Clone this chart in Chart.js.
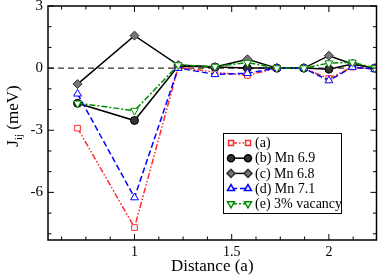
<!DOCTYPE html>
<html>
<head>
<meta charset="UTF-8">
<script src="https://cdn.jsdelivr.net/npm/chart.js"></script>
<style>
  html, body { margin: 0; padding: 0; background: #fff; }
  #wrap { width: 382px; height: 276px; }
</style>
</head>
<body>
<div id="wrap"><canvas id="c"></canvas></div>
<script>
// neighbour distances (units of a)
const distances = [0.707, 1, 1.225, 1.414, 1.581, 1.732, 1.871, 2, 2.121, 2.236];
const seriesA   = [-2.9, -7.7, 0.05, -0.2, -0.35, 0.0, -0.02, -0.5, 0.05, -0.05];
const seriesB   = [-1.7, -2.53, 0.1, 0.05, 0.0, 0.0, 0.0, -0.05, 0.2, 0.0];
const seriesC   = [-0.77, 1.57, 0.15, 0.05, 0.43, 0.0, 0.0, 0.6, 0.2, 0.0];
const seriesD   = [-1.24, -6.25, 0.0, -0.3, -0.25, 0.0, 0.0, -0.6, 0.05, -0.05];
const seriesE   = [-1.7, -2.05, 0.15, 0.08, 0.27, 0.0, 0.0, 0.24, 0.28, 0.0];
const labels    = ['(a)', '(b) Mn 6.9', '(c) Mn 6.8', '(d) Mn 7.1', '(e) 3% vacancy'];
const xMajor = [1, 1.5, 2];
const yMajor = [-6, -3, 0, 3];

const pts = arr => arr.map((v, i) => ({x: distances[i], y: v}));

const styles = [
  {color: '#ff2a2a', dash: [6, 2, 1.5, 2, 1.5, 2], point: 'rect', fill: '#fff', r: 4},
  {color: '#000', dash: [], point: 'circle', fill: '#333', r: 4},
  {color: '#000', dash: [], point: 'rectRot', fill: '#777', r: 4.5},
  {color: '#0000ff', dash: [6, 3], point: 'triangle', fill: '#fff', r: 4.5},
  {color: '#008c00', dash: [6, 2, 2, 2], point: 'triangle', rot: 180, fill: '#fff', r: 4.5}
];
const data = [seriesA, seriesB, seriesC, seriesD, seriesE];

const datasets = data.map((arr, i) => ({
  label: labels[i],
  data: pts(arr),
  borderColor: styles[i].color,
  borderWidth: 1.5,
  borderDash: styles[i].dash,
  pointStyle: styles[i].point,
  pointRotation: styles[i].rot || 0,
  pointRadius: styles[i].r,
  pointBorderWidth: 1,
  pointBorderColor: i == 2 ? '#333' : styles[i].color,
  pointBackgroundColor: styles[i].fill,
  showLine: true,
  tension: 0,
  order: 5 - i
}));

const serif = '"Liberation Serif", serif';

// zero line, axis ticks inward, titles, legend
const decor = {
  id: 'decor',
  beforeDatasetsDraw(chart) {
    const {ctx, chartArea: a, scales: {y}} = chart;
    ctx.save();
    ctx.strokeStyle = '#000';
    ctx.lineWidth = 1;
    ctx.setLineDash([6, 4]);
    const y0 = y.getPixelForValue(0);
    ctx.beginPath(); ctx.moveTo(a.left, y0); ctx.lineTo(a.right, y0); ctx.stroke();
    ctx.restore();
  },
  afterDraw(chart) {
    const {ctx, chartArea: a, scales: {x, y}} = chart;
    ctx.save();
    ctx.strokeStyle = '#000';
    ctx.lineWidth = 1.5;
    ctx.strokeRect(a.left, a.top, a.right - a.left, a.bottom - a.top);
    ctx.lineWidth = 1;
    ctx.beginPath();
    for (let v = 0.625; v <= 2.25; v += 0.125) {
      const px = x.getPixelForValue(v);
      if (px < a.left || px > a.right) continue;
      const len = Math.abs(v * 2 - Math.round(v * 2)) < 1e-6 ? 6 : 3.5;
      ctx.moveTo(px, a.bottom); ctx.lineTo(px, a.bottom - len);
      ctx.moveTo(px, a.top); ctx.lineTo(px, a.top + len);
    }
    for (let v = -8; v <= 3; v += 1) {
      const py = y.getPixelForValue(v);
      const len = v % 3 === 0 ? 6 : 3.5;
      ctx.moveTo(a.left, py); ctx.lineTo(a.left + len, py);
      ctx.moveTo(a.right, py); ctx.lineTo(a.right - len, py);
    }
    ctx.stroke();

    // axis titles
    ctx.fillStyle = '#000';
    ctx.font = '17px ' + serif;
    ctx.textAlign = 'center';
    ctx.textBaseline = 'alphabetic';
    ctx.fillText('Distance (a)', (a.left + a.right) / 2, 271);

    ctx.save();
    ctx.translate(18, 116);
    ctx.rotate(-Math.PI / 2);
    ctx.textAlign = 'left';
    const big = '17px ' + serif, small = '11px ' + serif;
    ctx.font = big; const wJ = ctx.measureText('J').width;
    ctx.font = small; const wij = ctx.measureText('ij').width;
    ctx.font = big; const wr = ctx.measureText(' (meV)').width;
    let sx = -(wJ + wij + wr) / 2;
    ctx.fillText('J', sx, 0); sx += wJ;
    ctx.font = small; ctx.fillText('ij', sx, 4); sx += wij;
    ctx.font = big; ctx.fillText(' (meV)', sx, 0);
    ctx.restore();

    // legend
    const lx = 223, ly = 133, lw = 118, lh = 80;
    ctx.fillStyle = '#fff';
    ctx.fillRect(lx, ly, lw, lh);
    ctx.strokeStyle = '#000';
    ctx.lineWidth = 1;
    ctx.strokeRect(lx + 0.5, ly + 0.5, lw, lh);
    chart.data.datasets.forEach((ds, i) => {
      const ry = ly + 10 + i * 15.2;
      ctx.save();
      ctx.strokeStyle = ds.borderColor;
      ctx.lineWidth = 1.5;
      ctx.setLineDash(ds.borderDash);
      ctx.beginPath(); ctx.moveTo(lx + 8, ry); ctx.lineTo(lx + 25, ry); ctx.stroke();
      ctx.setLineDash([]);
      const opts = {pointStyle: ds.pointStyle, radius: ds.pointRadius - 0.5, rotation: ds.pointRotation, borderWidth: 1};
      ctx.fillStyle = ds.pointBackgroundColor;
      ctx.strokeStyle = ds.pointBorderColor;
      Chart.helpers.drawPoint(ctx, opts, lx + 8, ry);
      Chart.helpers.drawPoint(ctx, opts, lx + 25, ry);
      ctx.restore();
      ctx.fillStyle = '#000';
      ctx.font = '14px ' + serif;
      ctx.textAlign = 'left';
      ctx.textBaseline = 'middle';
      ctx.fillText(ds.label, lx + 32, ry + 0.5);
    });
    ctx.restore();
  }
};

new Chart(document.getElementById('c'), {
  type: 'scatter',
  data: {datasets},
  options: {
    responsive: true,
    maintainAspectRatio: false,
    animation: false,
    layout: {padding: {top: 6, right: 3, left: 0, bottom: 0}},
    plugins: {legend: {display: false}, tooltip: {enabled: false}},
    scales: {
      x: {
        type: 'linear', min: 0.555, max: 2.245,
        grid: {display: false, drawTicks: false}, border: {display: false},
        afterBuildTicks: s => { s.ticks = xMajor.map(v => ({value: v})); },
        afterFit: s => { s.height = 36; s.paddingLeft = 0; s.paddingRight = 0; },
        ticks: {color: '#000', padding: 4, font: {family: serif, size: 14}, maxRotation: 0,
                callback: v => String(v)}
      },
      y: {
        type: 'linear', min: -8.3, max: 3,
        grid: {display: false, drawTicks: false}, border: {display: false},
        afterBuildTicks: s => { s.ticks = yMajor.map(v => ({value: v})); },
        afterFit: s => { s.width = 48; s.paddingTop = 0; s.paddingBottom = 0; },
        ticks: {color: '#000', padding: 5, font: {family: serif, size: 15},
                callback: v => String(v)}
      }
    }
  },
  plugins: [decor]
});
</script>
</body>
</html>
